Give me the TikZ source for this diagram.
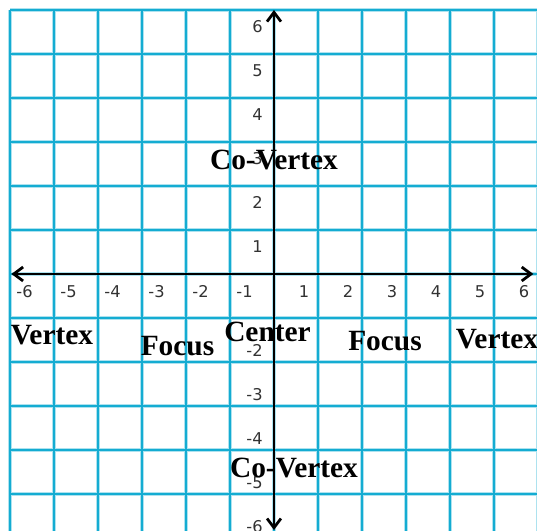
\documentclass[tikz,border=0pt]{standalone}
\usepackage{fontspec}
\setmainfont{Liberation Serif}
\newfontfamily\ticksfont{DejaVu Sans}
\usetikzlibrary{arrows.meta}
\definecolor{gridc}{RGB}{20,172,210}
\definecolor{tickc}{RGB}{50,50,50}
\begin{document}
\begin{tikzpicture}[
  gridhalo/.style={line width=2pt, gridc!35},
  gridcore/.style={line width=0.8pt, gridc},
  ticklbl/.style={font=\ticksfont\fontsize{10.5}{12}\selectfont, text=tickc, inner sep=0pt},
  biglbl/.style={font=\bfseries\fontsize{19}{21}\selectfont, inner sep=0pt, anchor=base},
  axisline/.style={line width=1.8pt, black, {Straight Barb[length=6pt,width=9pt]}-{Straight Barb[length=6pt,width=9pt]}}
]
\useasboundingbox (-6.2273,-5.8409) rectangle (5.9773,6.2273);
\begin{scope}
\clip (-6.2273,-5.8409) rectangle (5.9773,6.2273);
\foreach \k in {-6,...,6} {
  \draw[gridhalo] (\k,-6) -- (\k,6);
  \draw[gridhalo] (-6,\k) -- (6,\k);
}
\foreach \k in {-6,...,6} {
  \draw[gridcore] (\k,-6) -- (\k,6);
  \draw[gridcore] (-6,\k) -- (6,\k);
}
\end{scope}
% axes
\coordinate (xl) at (-5.966,0);
\coordinate (xr) at (5.894,0);
\coordinate (yt) at (0,6.0);
\coordinate (yb) at (0,-5.82);
\draw[axisline] (xl) -- (xr);
\draw[axisline] (yb) -- (yt);
% x tick labels
\foreach \k in {1,...,6} {
  \node[ticklbl, anchor=base west] (xm\k) at (-\k+0.14,-0.53) {-\k};
  \node[ticklbl, anchor=base east] (xp\k) at (\k-0.19,-0.53) {\k};
}
% y tick labels
\foreach \k in {1,...,6} {
  \node[ticklbl, anchor=base east] (yp\k) at (-0.25,\k-0.51) {\k};
}
\foreach \k in {2,...,6} {
  \node[ticklbl, anchor=base east] (ym\k) at (-0.25,-\k+0.136) {-\k};
}
% labels
\node[biglbl] (cvt) at (0,2.364) {Co-Vertex};
\node[biglbl] (vl) at (-5.045,-1.591) {Vertex};
\node[biglbl] (fl) at (-2.193,-1.841) {Focus};
\node[biglbl] (ctr) at (-0.148,-1.545) {Center};
\node[biglbl] (fr) at (2.523,-1.75) {Focus};
\node[biglbl] (vr) at (5.068,-1.682) {Vertex};
\node[biglbl] (cvb) at (0.4545,-4.614) {Co-Vertex};
\end{tikzpicture}
\end{document}
